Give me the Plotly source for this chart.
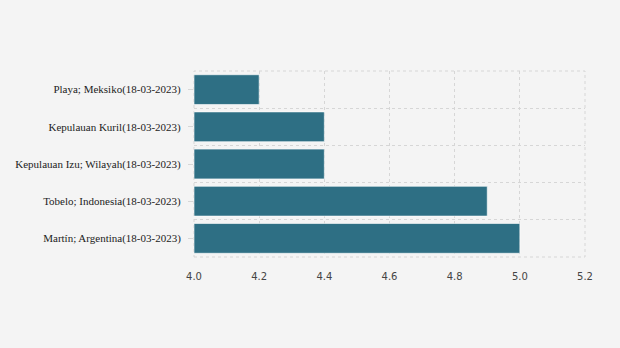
import plotly.graph_objects as go

categories = [
    "Martín; Argentina(18-03-2023)",
    "Tobelo; Indonesia(18-03-2023)",
    "Kepulauan Izu; Wilayah(18-03-2023)",
    "Kepulauan Kuril(18-03-2023)",
    "Playa; Meksiko(18-03-2023)",
]
magnitudes = [5.0, 4.9, 4.4, 4.4, 4.2]
x_ticks = [4.0, 4.2, 4.4, 4.6, 4.8, 5.0, 5.2]
x_base = 4.0

positions = list(range(len(categories)))
boundaries = [p - 0.5 for p in positions] + [positions[-1] + 0.5]

fig = go.Figure(go.Bar(
    x=[m - x_base for m in magnitudes],
    y=positions,
    orientation="h",
    base=x_base,
    marker=dict(color="#2e6f84", line=dict(color="rgba(255,255,255,0.6)", width=1)),
    width=0.8,
))

grid_col = "#d6d6d6"
fig.update_layout(
    width=620, height=348,
    margin=dict(l=194, r=35, t=71, b=91),
    paper_bgcolor="#f4f4f4",
    plot_bgcolor="#f4f4f4",
    font=dict(family="Liberation Serif, Times New Roman, serif", size=11, color="#222"),
    showlegend=False,
    bargap=0.2,
    shapes=[dict(type="rect", xref="paper", yref="paper", x0=0, x1=1, y0=0, y1=1,
                 line=dict(color=grid_col, width=1, dash="dot"), layer="below")],
)
fig.update_xaxes(
    range=[4.0, 5.2],
    tickvals=x_ticks,
    ticktext=[f"{v:.1f}" for v in x_ticks],
    showgrid=True, gridcolor=grid_col, griddash="dot", gridwidth=1,
    zeroline=False, showline=False, ticks="",
    ticklabelstandoff=12,
    tickfont=dict(family="DejaVu Sans, sans-serif", size=10, color="#444"),
)
fig.update_yaxes(
    range=[-0.5, 4.5],
    tickvals=positions,
    ticktext=categories,
    showgrid=False, zeroline=False, showline=False,
    ticks="outside", ticklen=5, tickcolor="#d6d6d6",
    ticklabelstandoff=5,
    minor=dict(tickvals=boundaries, showgrid=True, gridcolor=grid_col, griddash="dot", gridwidth=1, ticks=""),
)
fig.write_html("out.html")
